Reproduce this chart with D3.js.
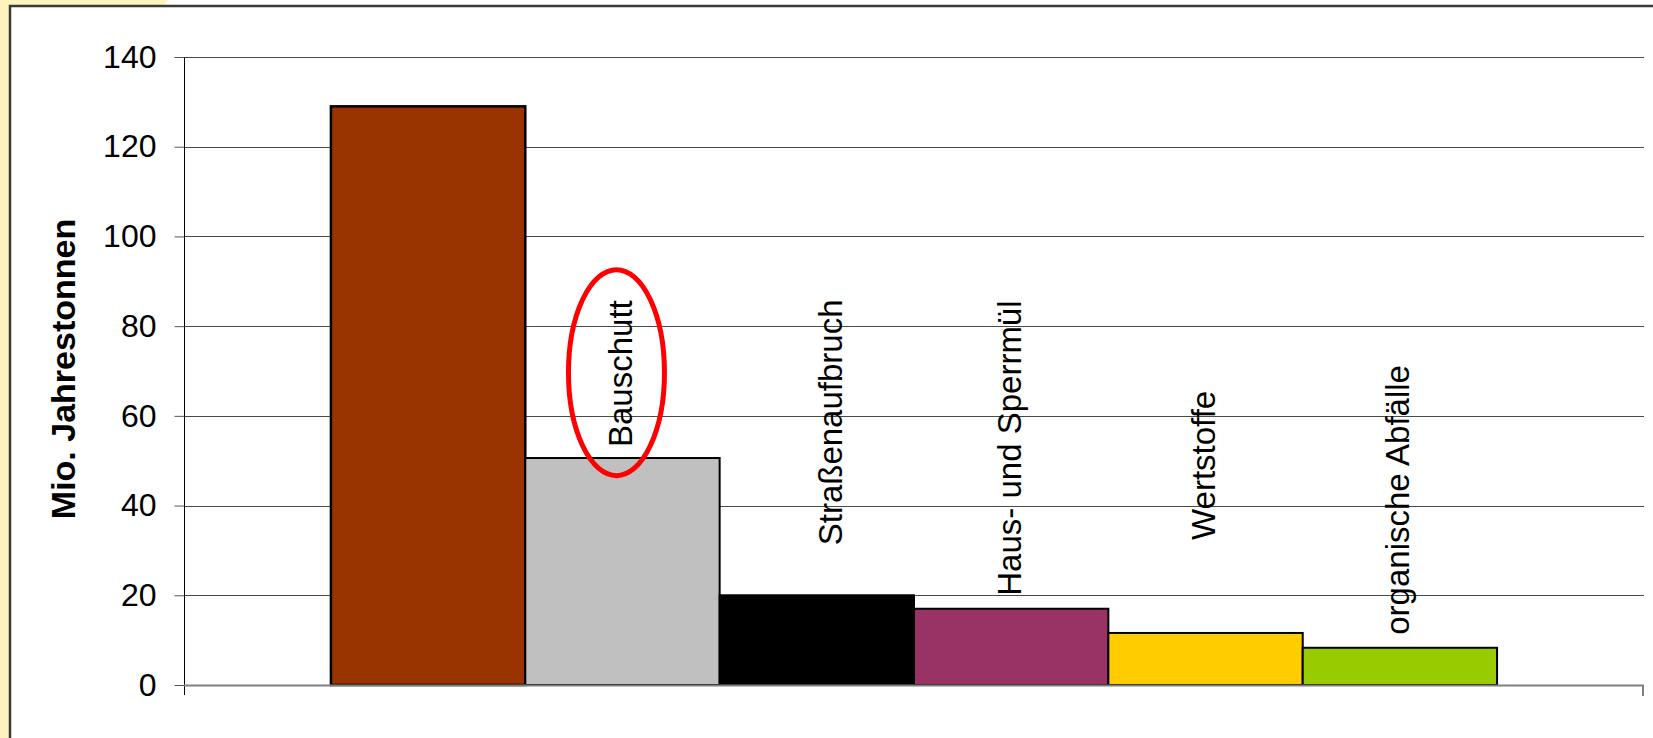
<!DOCTYPE html>
<html>
<head>
<meta charset="utf-8">
<script src="https://cdn.jsdelivr.net/npm/d3@7"></script>
<style>
  html, body { margin: 0; padding: 0; background: #fff; }
  svg { display: block; font-family: "Liberation Sans", Arial, sans-serif; }
</style>
</head>
<body>
<svg id="chart"></svg>
<script>
// data (one category, six series)
const category = ['Abfall'];
const seriesNames = ['', 'Bauschutt', 'Straßenaufbruch', 'Haus- und Sperrmül', 'Wertstoffe', 'organische Abfälle'];
const seriesValues = [129, 50.6, 20, 17, 11.6, 8.3];
const seriesColors = ['#993300', '#c0c0c0', '#000000', '#993366', '#ffcc00', '#99cc00'];
const yTicks = [0, 20, 40, 60, 80, 100, 120, 140];
const yTitle = 'Mio. Jahrestonnen';
const highlighted = 'Bauschutt';

// labels were moved by hand in the original: lift above bar top and sideways nudge (px)
const labelLift = [0, 11, 50, 13, 93, 13];
const labelNudge = [0, 0, 16, 0, 0, 0];

const W = 1653, H = 738;
const margin = { top: 57, right: 9, bottom: 53, left: 184 };

const svg = d3.select('#chart').attr('width', W).attr('height', H);

// page decoration: pale yellow strip and frame
svg.append('rect').attr('width', W).attr('height', H).attr('fill', '#fff');
svg.append('path')
  .attr('d', `M0,0 L168,0 L163,6 L10,6 L10,${H} L0,${H} Z`)
  .attr('fill', '#fff3bd');
svg.append('path')
  .attr('d', `M10,${H} L10,6 L${W},6`)
  .attr('fill', 'none')
  .attr('stroke', '#3a3a3a')
  .attr('stroke-width', 2.5);

const x0 = margin.left, x1 = W - margin.right;
const yB = H - margin.bottom, yT = margin.top;

const y = d3.scaleLinear().domain([0, 140]).range([yB, yT]);

const xCat = d3.scaleBand().domain(category).range([x0, x1]).paddingOuter(0.126);
const xSer = d3.scaleBand().domain(d3.range(seriesValues.length)).range([0, xCat.bandwidth()]);

// gridlines
svg.append('g')
  .selectAll('line')
  .data(yTicks.filter(d => d > 0))
  .join('line')
  .attr('x1', x0).attr('x2', x1)
  .attr('y1', d => Math.round(y(d)) + 0.5).attr('y2', d => Math.round(y(d)) + 0.5)
  .attr('stroke', '#4a4a4a')
  .attr('stroke-width', 1);

// y axis
const yAxis = svg.append('g')
  .attr('transform', `translate(${x0 + 0.5},0)`)
  .call(d3.axisLeft(y).tickValues(yTicks).tickSize(10).tickPadding(18));
yAxis.select('.domain').attr('d', `M0,${yT}V${yB + 10}`).attr('stroke', '#000');
yAxis.selectAll('.tick line').attr('stroke', '#555');
yAxis.selectAll('.tick text')
  .attr('font-size', 32)
  .attr('font-family', '"Liberation Sans", Arial, sans-serif')
  .attr('fill', '#000');

// y title
svg.append('text')
  .attr('transform', 'translate(75,369) rotate(-90)')
  .attr('text-anchor', 'middle')
  .attr('font-size', 34)
  .attr('font-weight', 'bold')
  .text(yTitle);

// bars
const g = svg.append('g').attr('transform', `translate(${xCat(category[0])},0)`);
g.selectAll('rect')
  .data(seriesValues)
  .join('rect')
  .attr('x', (d, i) => xSer(i))
  .attr('y', d => y(d))
  .attr('width', xSer.bandwidth())
  .attr('height', d => y(0) - y(d))
  .attr('fill', (d, i) => seriesColors[i])
  .attr('stroke', '#000')
  .attr('stroke-width', (d, i) => i === 0 ? 2.5 : 2);

// x axis line + end tick
svg.append('line')
  .attr('x1', x0).attr('x2', x1)
  .attr('y1', yB + 0.5).attr('y2', yB + 0.5)
  .attr('stroke', '#808080').attr('stroke-width', 2);
svg.append('line')
  .attr('x1', x1 - 1).attr('x2', x1 - 1)
  .attr('y1', yB).attr('y2', yB + 11)
  .attr('stroke', '#808080').attr('stroke-width', 2);

// rotated series labels
const labelX = i => xSer(i) + xSer.bandwidth() / 2 - 2 + labelNudge[i];
g.selectAll('text.lbl')
  .data(seriesValues)
  .join('text')
  .attr('class', 'lbl')
  .attr('transform', (d, i) => `translate(${labelX(i)},${y(d) - labelLift[i]}) rotate(-90)`)
  .attr('dy', '0.35em')
  .attr('font-size', 33)
  .attr('fill', '#000')
  .text((d, i) => seriesNames[i]);

// red ellipse round the highlighted label
const hi = seriesNames.indexOf(highlighted);
const hiNode = g.selectAll('text.lbl').filter((d, i) => i === hi).node();
const bb = hiNode.getBBox();
const ly = y(seriesValues[hi]) - labelLift[hi] - bb.width / 2;
g.append('ellipse')
  .attr('cx', labelX(hi) - 4)
  .attr('cy', ly - 1)
  .attr('rx', 48)
  .attr('ry', 103)
  .attr('fill', 'none')
  .attr('stroke', '#ff0000')
  .attr('stroke-width', 5);
</script>
</body>
</html>
